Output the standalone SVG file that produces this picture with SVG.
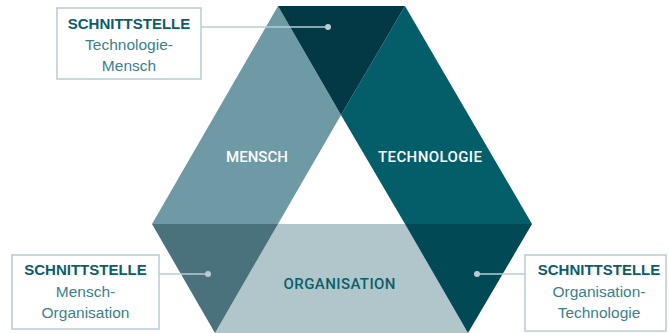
<svg xmlns="http://www.w3.org/2000/svg" width="669" height="333" viewBox="0 0 669 333">
<style>
.box{fill:#ffffff;stroke:#b9ccd2;stroke-width:1.5}
.lead{stroke:#b9ccd2;stroke-width:1.5;fill:none}
.dot{fill:#b9ccd2}
.t1{font-family:"Liberation Sans",Arial,sans-serif;font-weight:bold;font-size:15px;fill:#0b5d68;text-anchor:middle}
.t2{font-family:"Liberation Sans",Arial,sans-serif;font-size:15.5px;fill:#3b7f89;text-anchor:middle}
.lbl{font-family:Roboto,"Liberation Sans",sans-serif;font-weight:500;font-size:15px;text-anchor:middle}
</style>
<rect width="669" height="333" fill="#ffffff"/>
<g id="mensch">
<polygon points="278,6 341,115 278,224 152,224" fill="#6e9aa5"/>
<text class="lbl" x="257" y="162" fill="#ffffff">MENSCH</text>
</g>
<g id="technologie">
<polygon points="405,6 532,224 405,224 341,115" fill="#035e6a"/>
<text class="lbl" x="430" y="162" fill="#ffffff" textLength="104">TECHNOLOGIE</text>
</g>
<g id="organisation">
<polygon points="278,224 405,224 468,333 215,333" fill="#b0c6cb"/>
<text class="lbl" x="339.5" y="289" fill="#0c5e6a" textLength="112">ORGANISATION</text>
</g>
<g id="overlap-top">
<polygon points="278,6 405,6 341,115" fill="#033945"/>
</g>
<g id="overlap-left">
<polygon points="152,224 278,224 215,333" fill="#49727d"/>
</g>
<g id="overlap-right">
<polygon points="405,224 532,224 468,333" fill="#014955"/>
</g>
<g id="connectors">
<line class="lead" x1="201" y1="27" x2="328" y2="27"/>
<circle class="dot" cx="328" cy="27" r="3"/>
<line class="lead" x1="159" y1="274" x2="208" y2="274"/>
<circle class="dot" cx="208" cy="274" r="3"/>
<line class="lead" x1="477" y1="274" x2="525" y2="274"/>
<circle class="dot" cx="477" cy="274" r="3"/>
</g>
<g id="box-tech-mensch">
<rect class="box" x="57" y="8" width="144" height="71"/>
<text class="t1" x="129" y="29">SCHNITTSTELLE</text>
<text class="t2" x="129" y="50">Technologie-</text>
<text class="t2" x="129" y="71">Mensch</text>
</g>
<g id="box-mensch-org">
<rect class="box" x="12" y="255" width="147" height="74"/>
<text class="t1" x="85.5" y="275">SCHNITTSTELLE</text>
<text class="t2" x="85.5" y="297">Mensch-</text>
<text class="t2" x="85.5" y="318">Organisation</text>
</g>
<g id="box-org-tech">
<rect class="box" x="525" y="255" width="141" height="76"/>
<text class="t1" x="599" y="275">SCHNITTSTELLE</text>
<text class="t2" x="599" y="297">Organisation-</text>
<text class="t2" x="599" y="318">Technologie</text>
</g>
</svg>
